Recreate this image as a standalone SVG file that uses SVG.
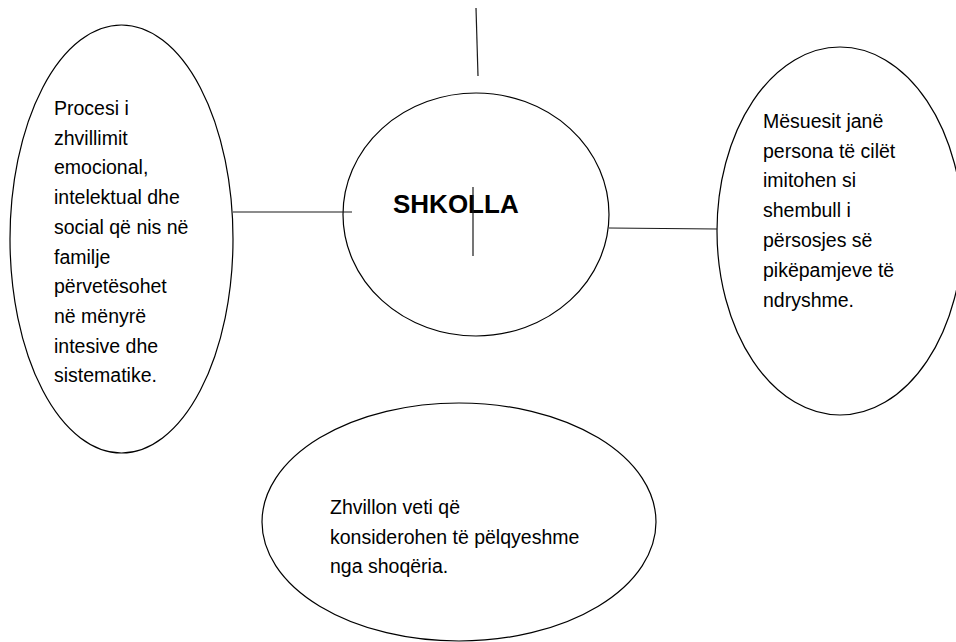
<svg xmlns="http://www.w3.org/2000/svg" width="956" height="642" viewBox="0 0 956 642">
<style>
.shape{fill:#ffffff;stroke:#000000;stroke-width:1.2}
.t{font-family:"Liberation Sans",Arial,sans-serif;font-size:19.5px;fill:#000000}
.title{font-family:"Liberation Sans",Arial,sans-serif;font-size:26px;font-weight:bold;fill:#000000}
.conn{stroke:#1a1a1a;stroke-width:1.2;fill:none}
</style>
<rect width="956" height="642" fill="#ffffff"/>
<g id="node-left">
<ellipse class="shape" cx="121.5" cy="239" rx="111.5" ry="214"/>
<text class="t" x="54" y="115">Procesi i</text>
<text class="t" x="54" y="144.7">zhvillimit</text>
<text class="t" x="54" y="174.4">emocional,</text>
<text class="t" x="54" y="204.1">intelektual dhe</text>
<text class="t" x="54" y="233.8">social që nis në</text>
<text class="t" x="54" y="263.5">familje</text>
<text class="t" x="54" y="293.2">përvetësohet</text>
<text class="t" x="54" y="322.9">në mënyrë</text>
<text class="t" x="54" y="352.6">intesive dhe</text>
<text class="t" x="54" y="382.3">sistematike.</text>
</g>
<g id="node-center">
<ellipse class="shape" cx="476" cy="214.5" rx="133" ry="121.5"/>
<text class="title" x="393" y="213">SHKOLLA</text>
</g>
<g id="node-right">
<ellipse class="shape" cx="840" cy="231" rx="123" ry="184"/>
<text class="t" x="763" y="128">Mësuesit janë</text>
<text class="t" x="763" y="157.5">persona të cilët</text>
<text class="t" x="763" y="187.2">imitohen si</text>
<text class="t" x="763" y="217">shembull i</text>
<text class="t" x="763" y="246.7">përsosjes së</text>
<text class="t" x="763" y="276.5">pikëpamjeve të</text>
<text class="t" x="763" y="306.5">ndryshme.</text>
</g>
<g id="node-bottom">
<ellipse class="shape" cx="459" cy="522" rx="197" ry="119"/>
<text class="t" x="330" y="514">Zhvillon veti që</text>
<text class="t" x="330" y="543.5">konsiderohen të pëlqyeshme</text>
<text class="t" x="330" y="573">nga shoqëria.</text>
</g>
<g id="connectors">
<line class="conn" x1="476" y1="8" x2="478" y2="76"/>
<line class="conn" x1="233" y1="212" x2="352" y2="212"/>
<line class="conn" x1="609" y1="228" x2="717" y2="229"/>
<line class="conn" x1="473" y1="187" x2="473" y2="256"/>
</g>
</svg>
